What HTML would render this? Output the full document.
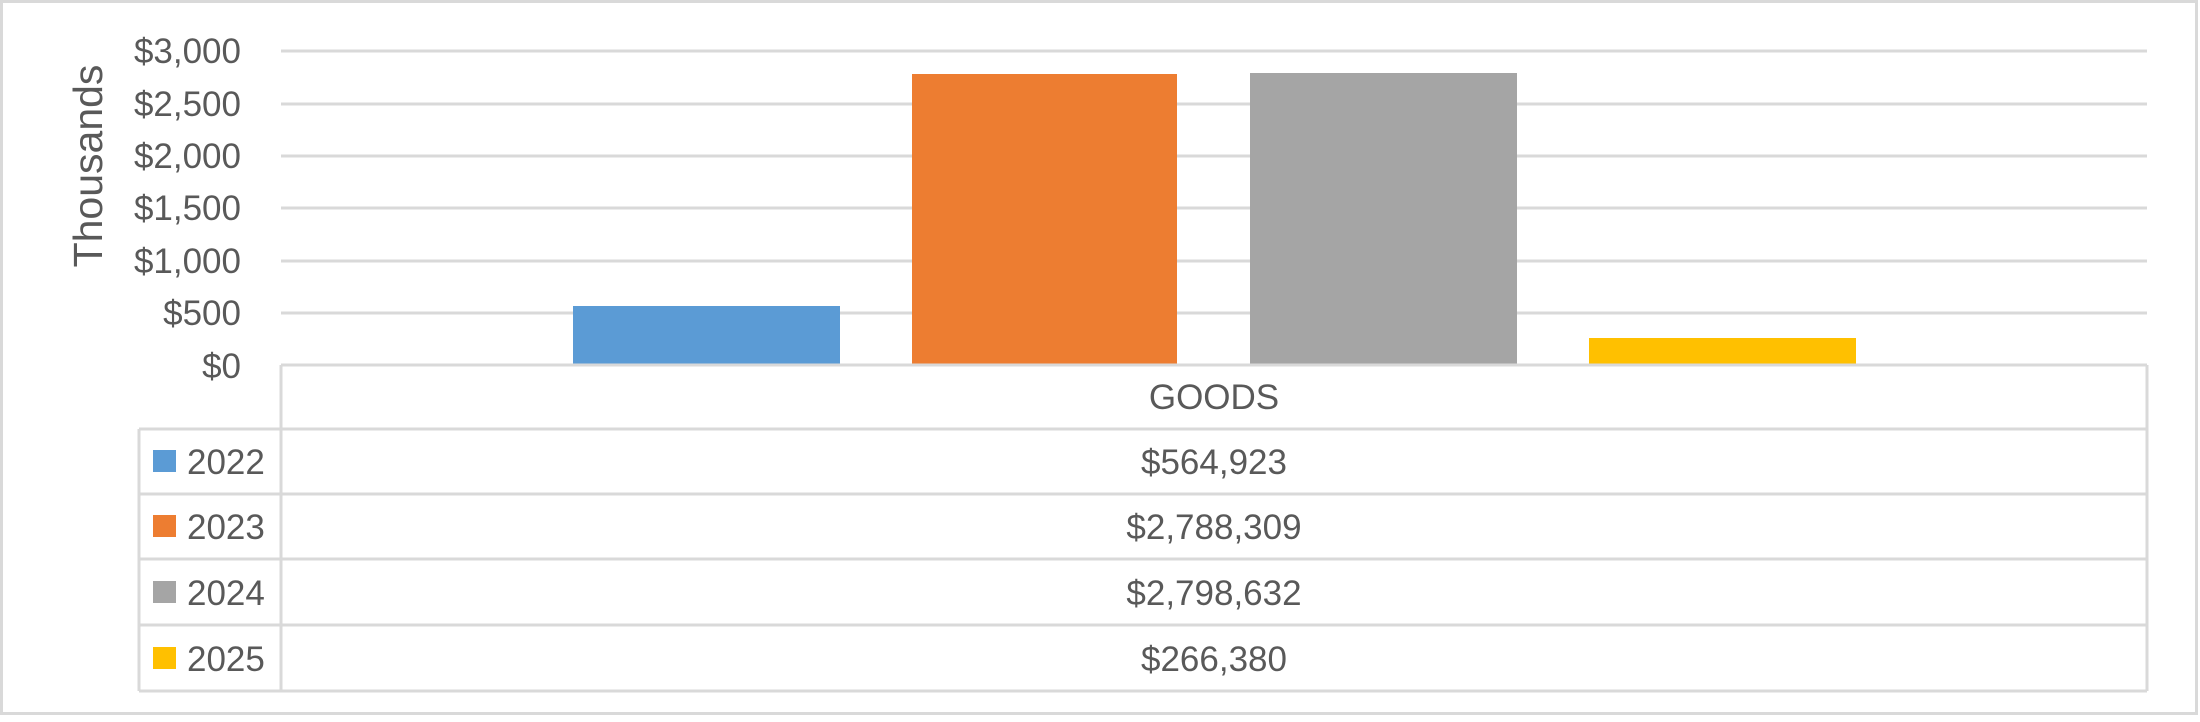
<!DOCTYPE html>
<html><head><meta charset="utf-8"><style>
body{margin:0;background:#fff}
svg text{font-family:"Liberation Sans",sans-serif;fill:#595959;font-size:35px}
</style></head><body>
<svg width="2200" height="717" xmlns="http://www.w3.org/2000/svg">
<rect x="1.5" y="1.5" width="2195" height="712" fill="#fff" stroke="#d9d9d9" stroke-width="3"/>
<g stroke="#d9d9d9" stroke-width="3">
<line x1="281" y1="51" x2="2147" y2="51"/>
<line x1="281" y1="104" x2="2147" y2="104"/>
<line x1="281" y1="156" x2="2147" y2="156"/>
<line x1="281" y1="208" x2="2147" y2="208"/>
<line x1="281" y1="261" x2="2147" y2="261"/>
<line x1="281" y1="313" x2="2147" y2="313"/>
</g>
<rect x="573" y="306" width="267" height="59" fill="#5b9bd5"/>
<rect x="912" y="74" width="265" height="291" fill="#ed7d31"/>
<rect x="1250" y="73" width="267" height="292" fill="#a5a5a5"/>
<rect x="1589" y="338" width="267" height="27" fill="#ffc000"/>
<g stroke="#d9d9d9" stroke-width="3" fill="none">
<line x1="281" y1="365" x2="2147" y2="365"/>
<line x1="281" y1="365" x2="281" y2="691"/>
<line x1="2147" y1="365" x2="2147" y2="691"/>
<line x1="139" y1="429" x2="2147" y2="429"/>
<line x1="139" y1="494" x2="2147" y2="494"/>
<line x1="139" y1="559" x2="2147" y2="559"/>
<line x1="139" y1="625" x2="2147" y2="625"/>
<line x1="139" y1="691" x2="2147" y2="691"/>
<line x1="139" y1="429" x2="139" y2="691"/>
</g>
<g text-anchor="end">
<text x="241" y="63">$3,000</text>
<text x="241" y="116">$2,500</text>
<text x="241" y="168">$2,000</text>
<text x="241" y="220">$1,500</text>
<text x="241" y="273">$1,000</text>
<text x="241" y="325">$500</text>
<text x="241" y="378">$0</text>
</g>
<text transform="translate(102,166) rotate(-90)" text-anchor="middle" style="font-size:41px">Thousands</text>
<text x="1214" y="409" text-anchor="middle">GOODS</text>
<rect x="153" y="450" width="23" height="22" fill="#5b9bd5"/>
<rect x="153" y="515" width="23" height="22" fill="#ed7d31"/>
<rect x="153" y="581" width="23" height="22" fill="#a5a5a5"/>
<rect x="153" y="647" width="23" height="22" fill="#ffc000"/>
<text x="187" y="474">2022</text>
<text x="187" y="539">2023</text>
<text x="187" y="605">2024</text>
<text x="187" y="671">2025</text>
<g text-anchor="middle">
<text x="1214" y="474">$564,923</text>
<text x="1214" y="539">$2,788,309</text>
<text x="1214" y="605">$2,798,632</text>
<text x="1214" y="671">$266,380</text>
</g>
</svg>
</body></html>
